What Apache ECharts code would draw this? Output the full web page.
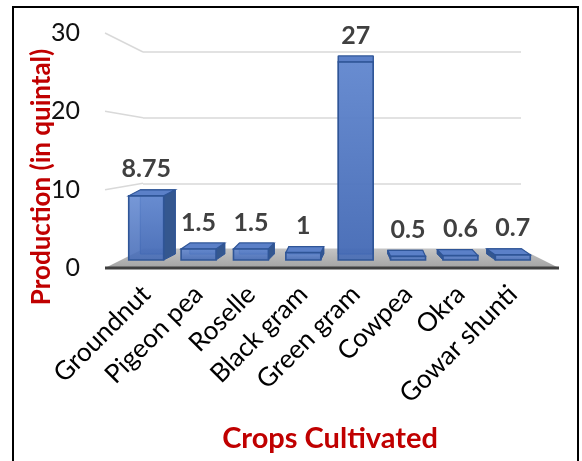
<!DOCTYPE html>
<html><head><meta charset="utf-8">
<script src="https://cdn.jsdelivr.net/npm/echarts@6/dist/echarts.min.js"></script>
<style>html,body{margin:0;padding:0;background:#fff}#c{width:582px;height:461px}</style>
</head><body><div id="c"></div>
<script>
// ---- data ----
const categories = ['Groundnut', 'Pigeon pea', 'Roselle', 'Black gram', 'Green gram', 'Cowpea', 'Okra', 'Gowar shunti'];
const production = [8.75, 1.5, 1.5, 1, 27, 0.5, 0.6, 0.7];
const yTicks = [0, 10, 20, 30];
const yTitle = 'Production (in quintal)';
const xTitle = 'Crops Cultivated';

// ---- styling / layout constants ----
const FONT = 'Lato, "Open Sans", sans-serif';
const RED = '#C00000';
const VPX = 357;       // perspective centre (px)
const DEPTH_K = 0.055; // horizontal depth factor
const DEPTH_Y = -6;    // vertical depth offset

const chart = echarts.init(document.getElementById('c'), null, {renderer: 'canvas'});

function renderBar(params, api) {
  const i = api.value(0), v = api.value(1);
  const top = api.coord([i, v]);
  const base = api.coord([i, 0]);
  const w = api.size([1, 0])[0] * 0.667;
  const x0 = top[0] - w / 2, x1 = top[0] + w / 2, yT = top[1], yB = base[1];
  const dx = (VPX - top[0]) * DEPTH_K, dy = DEPTH_Y;
  const P = (x, y) => [x + dx, y + dy];
  const edge = '#2F5597';
  const ch = [];
  // back face (seen through)
  ch.push({type: 'polygon', shape: {points: [P(x0, yT), P(x1, yT), P(x1, yB), P(x0, yB)]},
    style: {fill: 'rgba(60,95,165,0.6)', stroke: edge, lineWidth: 1}});
  // side face
  if (dx > 0.5) {
    ch.push({type: 'polygon', shape: {points: [[x1, yT], P(x1, yT), P(x1, yB), [x1, yB]]},
      style: {fill: '#34578f', stroke: edge, lineWidth: 1}});
  } else if (dx < -0.5) {
    ch.push({type: 'polygon', shape: {points: [[x0, yT], P(x0, yT), P(x0, yB), [x0, yB]]},
      style: {fill: '#34578f', stroke: edge, lineWidth: 1}});
  }
  // top face
  ch.push({type: 'polygon', shape: {points: [[x0, yT], [x1, yT], P(x1, yT), P(x0, yT)]},
    style: {fill: '#5b80c8', stroke: edge, lineWidth: 1.2}});
  // front face
  ch.push({type: 'rect', shape: {x: x0, y: yT, width: w, height: yB - yT},
    style: {
      fill: new echarts.graphic.LinearGradient(0, 0, 0, 1, [
        {offset: 0, color: 'rgba(100,138,210,0.88)'},
        {offset: 1, color: 'rgba(68,106,182,0.88)'}
      ]),
      stroke: edge, lineWidth: 1.6
    }});
  // value label
  ch.push({type: 'text', style: {
    text: String(v), x: top[0], y: yT - 14, align: 'center', verticalAlign: 'bottom',
    font: 'bold 25px ' + FONT, fill: '#404040'
  }});
  return {type: 'group', children: ch};
}

const option = {
  animation: false,
  grid: [
    {left: 120, right: 43, top: 40, bottom: 201},  // bar plane
    {left: 105, right: 23, top: 33, bottom: 193},  // front plane (tick labels)
    {left: 143, right: 61, top: 52, bottom: 212}   // back wall
  ],
  xAxis: [
    {gridIndex: 0, type: 'category', data: categories,
      axisLine: {show: false}, axisTick: {show: false}, splitLine: {show: false},
      axisLabel: {rotate: 45, interval: 0, fontSize: 26, color: '#000', margin: 30, fontFamily: FONT}},
    {gridIndex: 1, type: 'value', show: false},
    {gridIndex: 2, type: 'value', show: false}
  ],
  yAxis: [
    {gridIndex: 0, type: 'value', min: 0, max: 30, show: false},
    {gridIndex: 1, type: 'value', min: 0, max: 30, interval: 10,
      axisLine: {show: false}, axisTick: {show: false}, splitLine: {show: false},
      axisLabel: {fontSize: 25, color: '#111', margin: 25, fontFamily: FONT}},
    {gridIndex: 2, type: 'value', min: 0, max: 30, interval: 10,
      axisLine: {show: false}, axisTick: {show: false}, axisLabel: {show: false},
      splitLine: {show: true, lineStyle: {color: '#d9d9d9', width: 1.5}}}
  ],
  series: [{
    type: 'custom', xAxisIndex: 0, yAxisIndex: 0, z: 10,
    renderItem: renderBar,
    data: production.map((v, i) => [i, v])
  }]
};
chart.setOption(option);

// decorations: perspective floor and grid-line slants, computed from the axes
const yF = v => chart.convertToPixel({yAxisIndex: 1}, v);
const yB = v => chart.convertToPixel({yAxisIndex: 2}, v);
const fL = 105, fR = 582 - 23, bL = 143, bR = 582 - 61;
const graphics = [];
yTicks.filter(t => t > 0).forEach(t => {
  graphics.push({type: 'line', z: 1, shape: {x1: fL, y1: yF(t), x2: bL, y2: yB(t)},
    style: {stroke: '#d9d9d9', lineWidth: 1.5}});
});
graphics.push({type: 'polygon', z: 2, shape: {points: [[fL, yF(0)], [fR, yF(0)], [bR, yB(0)], [bL, yB(0)]]},
  style: {fill: new echarts.graphic.LinearGradient(0, 0, 0, 1, [
    {offset: 0, color: '#c4c4c4'}, {offset: 1, color: '#a3a3a3'}])}});
graphics.push({type: 'line', z: 3, shape: {x1: fL, y1: yF(0), x2: fR, y2: yF(0)},
  style: {stroke: '#404040', lineWidth: 3}});
graphics.push({type: 'text', z: 20, x: 42, y: 177, rotation: Math.PI / 2,
  style: {text: yTitle, align: 'center', verticalAlign: 'middle', font: 'bold 26px ' + FONT, fill: RED}});
graphics.push({type: 'text', z: 20, x: 330, y: 439,
  style: {text: xTitle, align: 'center', verticalAlign: 'middle', font: 'bold 29px ' + FONT, fill: RED}});
graphics.push({type: 'rect', z: 30, shape: {x: 13, y: 7, width: 565, height: 480},
  style: {fill: 'none', stroke: '#000', lineWidth: 2}});
chart.setOption({graphic: {elements: graphics}});
</script>
</body></html>
